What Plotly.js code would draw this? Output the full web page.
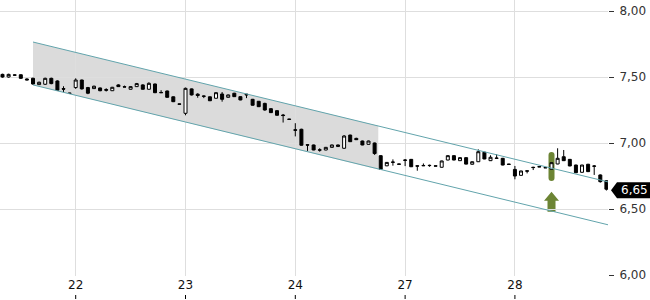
<!DOCTYPE html>
<html>
<head>
<meta charset="utf-8">
<script src="https://cdn.plot.ly/plotly-3.0.1.min.js"></script>
<style>html,body{margin:0;padding:0;background:#fff;}#chart{width:650px;height:300px;}</style>
</head>
<body>
<div id="chart"></div>
<script>
// Candle data (30-min bars)
const open  = [7.52,7.50,7.516,7.517,7.485,7.49,7.442,7.445,7.49,7.47,7.412,7.378,
  7.42,7.477,7.42,7.412,7.417,7.405,7.396,7.44,7.426,7.407,7.427,7.44,7.407,7.447,7.383,7.394,7.35,7.296,
  7.225,7.41,7.37,7.356,7.35,7.339,7.371,7.346,7.377,7.351,7.37,7.331,7.316,7.30,7.26,7.245,7.212,7.181,
  7.10,7.104,6.987,6.985,6.948,6.947,6.967,6.973,6.96,7.06,7.035,7.015,6.99,7.0,6.904,6.827,6.856,6.841,
  6.871,6.876,6.827,6.83,6.831,6.827,6.816,6.871,6.904,6.866,6.889,6.839,6.858,6.93,6.866,6.886,6.884,6.84,
  6.80,6.755,6.789,6.816,6.821,6.814,6.801,6.841,6.896,6.876,6.833,6.778,6.839,6.826,6.758,6.714];
const high  = [7.525,7.525,7.52,7.52,7.49,7.495,7.465,7.495,7.495,7.475,7.43,7.38,
  7.49,7.48,7.425,7.435,7.42,7.415,7.425,7.445,7.435,7.43,7.455,7.445,7.46,7.45,7.40,7.397,7.353,7.298,
  7.42,7.413,7.377,7.36,7.353,7.385,7.386,7.367,7.38,7.354,7.372,7.334,7.318,7.305,7.263,7.248,7.22,7.183,
  7.15,7.108,6.99,6.988,6.96,6.97,6.988,6.988,7.06,7.063,7.04,7.018,7.018,7.003,6.907,6.856,6.876,6.843,
  6.878,6.879,6.83,6.845,6.836,6.829,6.866,6.906,6.906,6.891,6.891,6.86,6.952,6.933,6.907,6.915,6.887,6.842,
  6.826,6.79,6.791,6.82,6.823,6.816,6.853,6.96,6.947,6.879,6.836,6.835,6.842,6.833,6.762,6.717];
const low   = [7.495,7.495,7.51,7.485,7.475,7.44,7.44,7.44,7.445,7.395,7.385,7.375,
  7.41,7.405,7.37,7.41,7.392,7.39,7.394,7.425,7.424,7.405,7.425,7.405,7.405,7.378,7.38,7.344,7.31,7.294,
  7.21,7.36,7.343,7.34,7.318,7.336,7.313,7.344,7.349,7.324,7.34,7.284,7.273,7.245,7.228,7.208,7.155,7.179,
  7.05,6.98,6.94,6.945,6.934,6.945,6.965,6.971,6.957,7.008,7.023,6.983,6.988,6.91,6.797,6.825,6.828,6.839,
  6.825,6.818,6.79,6.825,6.82,6.825,6.814,6.869,6.869,6.864,6.838,6.837,6.856,6.877,6.864,6.884,6.831,6.838,
  6.725,6.753,6.77,6.795,6.819,6.812,6.799,6.839,6.864,6.824,6.772,6.776,6.78,6.758,6.70,6.64];
const close = [7.50,7.52,7.514,7.49,7.478,7.447,7.46,7.49,7.45,7.40,7.408,7.376,
  7.477,7.41,7.377,7.43,7.396,7.40,7.422,7.427,7.424,7.427,7.45,7.407,7.452,7.381,7.381,7.346,7.313,7.294,
  7.414,7.364,7.36,7.354,7.32,7.381,7.331,7.364,7.351,7.326,7.365,7.286,7.275,7.25,7.23,7.21,7.208,7.179,
  7.097,6.983,6.984,6.947,6.946,6.967,6.985,6.985,7.053,7.01,7.025,6.985,7.015,6.92,6.80,6.853,6.854,6.839,
  6.869,6.82,6.825,6.828,6.829,6.825,6.864,6.904,6.871,6.889,6.84,6.858,6.934,6.879,6.892,6.884,6.833,6.838,
  6.75,6.788,6.787,6.814,6.819,6.812,6.851,6.884,6.866,6.826,6.775,6.833,6.783,6.824,6.707,6.65];

// Day ticks (bar index of first bar of each day)
const dayTickPos  = [12, 30, 48, 66, 84];
const dayTickText = ['22', '23', '24', '27', '28'];

// Price ticks
const priceTicks = [6.0, 6.5, 7.0, 7.5, 8.0];

// Trend channel (drawn lines) and shaded part of it
const channelX     = [5, 99.3];
const channelUpper = [7.765, 6.705];
const channelLower = [7.44, 6.38];
const shadeX     = [5, 61.6];
const shadeUpper = [7.765, 7.13];
const shadeLower = [7.44, 6.80];

// Signal marker
const signalBar = 90;
const signalMid = 6.822;
const arrowTip  = 6.631;

const xIdx = open.map((_, i) => i);
const lastClose = close[close.length - 1];
const xRange = [-0.41, 99.26];

const traces = [
  {
    type: 'candlestick', x: xIdx, open: open, high: high, low: low, close: close,
    whiskerwidth: 0,
    increasing: {line: {color: '#000', width: 1}, fillcolor: '#ffffff'},
    decreasing: {line: {color: '#000', width: 1}, fillcolor: '#000000'}
  },
  {
    type: 'scatter', mode: 'lines', x: channelX, y: channelUpper,
    line: {color: '#62a4ac', width: 1}, hoverinfo: 'skip'
  },
  {
    type: 'scatter', mode: 'lines', x: channelX, y: channelLower,
    line: {color: '#62a4ac', width: 1}, hoverinfo: 'skip'
  }
];

const plotH = 276;
const tickShapes = dayTickPos.map(p => {
  const px = (p - xRange[0]) / (xRange[1] - xRange[0]);
  return {
    type: 'line', xref: 'paper', yref: 'paper', x0: px, x1: px,
    y0: (plotH - 295) / plotH, y1: (plotH - 299) / plotH,
    line: {color: '#000', width: 1}
  };
});

const shadePath = 'M' + shadeX[0] + ',' + shadeUpper[0] +
  ' L' + shadeX[1] + ',' + shadeUpper[1] +
  ' L' + shadeX[1] + ',' + shadeLower[1] +
  ' L' + shadeX[0] + ',' + shadeLower[0] + ' Z';

const layout = {
  width: 650, height: 300,
  margin: {l: 0, r: 42, t: 0, b: 24},
  paper_bgcolor: '#fff', plot_bgcolor: '#fff',
  showlegend: false,
  separators: ',.',
  font: {family: 'DejaVu Sans', size: 12, color: '#222'},
  xaxis: {
    range: xRange, rangeslider: {visible: false},
    tickmode: 'array', tickvals: dayTickPos, ticktext: dayTickText,
    showgrid: true, gridcolor: '#dedede', gridwidth: 1,
    ticks: '', zeroline: false, showline: false,
    tickfont: {family: 'DejaVu Sans', size: 12, color: '#111'}
  },
  yaxis: {
    side: 'right', range: [5.9924, 8.0833],
    tickmode: 'array', tickvals: priceTicks, tickformat: '.2f',
    showgrid: true, gridcolor: '#dedede', gridwidth: 1,
    ticks: 'outside', ticklen: 5, tickcolor: '#333', tickwidth: 1,
    ticklabelstandoff: 3,
    zeroline: false, showline: false,
    tickfont: {family: 'DejaVu Sans', size: 12, color: '#333'}
  },
  shapes: [
    {
      type: 'path', layer: 'below', xref: 'x', yref: 'y',
      path: shadePath, fillcolor: 'rgba(200,200,200,0.65)', line: {width: 0}
    },
    {
      type: 'path', layer: 'below', xref: 'x', yref: 'y',
      xsizemode: 'pixel', ysizemode: 'pixel', xanchor: signalBar, yanchor: signalMid,
      path: 'M-3,11.5 L-3,-11.5 Q-3,-14.5 0,-14.5 Q3,-14.5 3,-11.5 L3,11.5 Q3,14.5 0,14.5 Q-3,14.5 -3,11.5 Z',
      fillcolor: '#6c8434', line: {width: 0}
    },
    {
      type: 'path', layer: 'below', xref: 'x', yref: 'y',
      xsizemode: 'pixel', ysizemode: 'pixel', xanchor: signalBar, yanchor: arrowTip,
      path: 'M0,0 L7.5,-9 L4,-9 L4,-20 L-4,-20 L-4,-9 L-7.5,-9 Z',
      fillcolor: '#6c8434', line: {width: 0}
    },
    {
      type: 'path', layer: 'above', xref: 'paper', yref: 'y',
      xsizemode: 'pixel', ysizemode: 'pixel', xanchor: 1, yanchor: lastClose,
      path: 'M3,-1 L9,7 L42,7 L42,-9 L9,-9 Z',
      fillcolor: '#000', line: {width: 0}
    }
  ].concat(tickShapes),
  annotations: [
    {
      xref: 'paper', yref: 'y', x: 1, y: lastClose, xanchor: 'left', yanchor: 'middle',
      xshift: 11, yshift: -1, showarrow: false,
      text: lastClose.toFixed(2).replace('.', ','),
      font: {family: 'DejaVu Sans', size: 12, color: '#fff'}
    }
  ]
};

Plotly.newPlot('chart', traces, layout, {displayModeBar: false, staticPlot: true});
</script>
</body>
</html>
